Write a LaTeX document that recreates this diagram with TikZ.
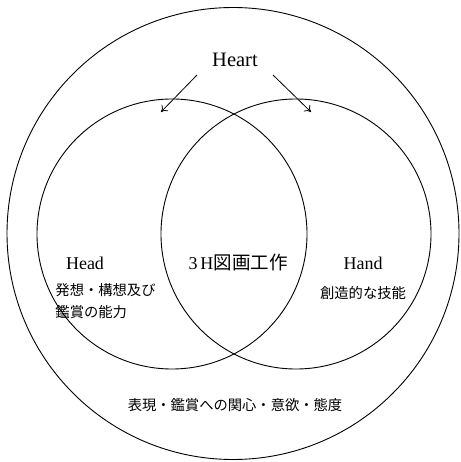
\documentclass[tikz,border=0pt]{standalone}
\usepackage{fontspec}
\setmainfont{Liberation Serif}
\newfontfamily\cjk{Noto Sans CJK JP}
\usetikzlibrary{calc, arrows.meta}

\begin{document}
\begin{tikzpicture}[x=1pt, y=-1pt, line width=0.9pt,
    en/.style={draw, black},
    lbl/.style={font=\fontsize{18}{20}\selectfont, inner sep=0pt},
    jp/.style={font=\fontsize{14.3}{22}\selectfont\cjk, inner sep=0pt, align=left},
    yaji/.style={-{To[length=6pt, width=9pt]}, line width=0.8pt}]

    % 余白込みの大きさ
    \useasboundingbox (0,0) rectangle (460,462);

    % 外側の円と二つの円
    \draw[en] (233,233.5) circle (226pt);
    \draw[en] (172,234) circle (135pt);
    \draw[en] (296,234) circle (135pt);

    % 文字
    \node[lbl, font=\fontsize{20.5}{22}\selectfont] (heart) at (235,60) {Heart};
    \node[lbl] (head) at (85,263) {Head};
    \node[lbl] (center) at (238,263) {3\,H{\cjk\fontsize{18.5}{20}\selectfont 図画工作}};
    \node[lbl] (hand) at (363,263) {Hand};
    \node[jp, anchor=north west] (headtxt) at (55,283) {発想・構想及び\\鑑賞の能力};
    \node[jp] (handtxt) at (363,293) {創造的な技能};
    \node[jp] (attitude) at (235,405) {表現・鑑賞への関心・意欲・態度};

    % 矢印
    \coordinate (la) at (197,75);
    \coordinate (lb) at (161,112);
    \coordinate (ra) at (273,75);
    \coordinate (rb) at (311,112);
    \draw[yaji] (la) -- (lb);
    \draw[yaji] (ra) -- (rb);

\end{tikzpicture}
\end{document}
